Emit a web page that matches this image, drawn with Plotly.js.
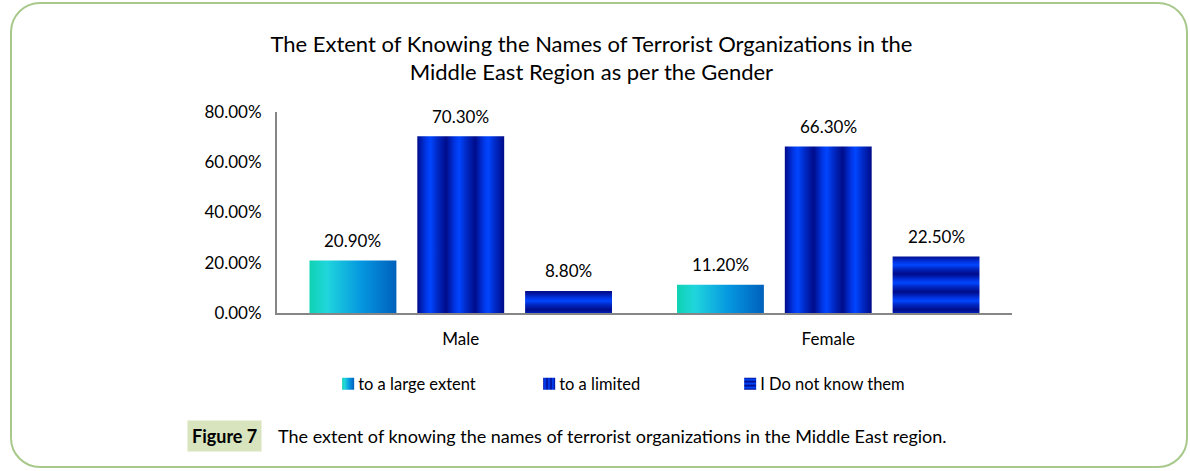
<!DOCTYPE html>
<html>
<head>
<meta charset="utf-8">
<script src="https://cdn.plot.ly/plotly-3.0.1.min.js"></script>
<style>
  body { margin: 0; background: #fff; }
  #frame { position: absolute; left: 10px; top: 2px; width: 1174px; height: 462px;
           border: 2px solid #a8c88c; border-radius: 30px; }
  #graph { position: absolute; left: 0; top: 0; width: 1190px; height: 471px; }
  #fills { position: absolute; width: 0; height: 0; }
</style>
</head>
<body>
<svg id="fills" aria-hidden="true">
  <defs>
    <linearGradient id="gLarge" x1="0" y1="0" x2="1" y2="0">
      <stop offset="0" stop-color="#0fd2b2"/>
      <stop offset="0.2" stop-color="#20d6dc"/>
      <stop offset="0.6" stop-color="#0596e0"/>
      <stop offset="1" stop-color="#0060bc"/>
    </linearGradient>
    <linearGradient id="gLimited" x1="0" y1="0" x2="0.333" y2="0" spreadMethod="repeat">
      <stop offset="0" stop-color="#000c8a"/>
      <stop offset="0.3" stop-color="#0036e6"/>
      <stop offset="0.45" stop-color="#0046ff"/>
      <stop offset="0.7" stop-color="#0028c4"/>
      <stop offset="1" stop-color="#000c8a"/>
    </linearGradient>
    <linearGradient id="gUnknown" gradientUnits="userSpaceOnUse" x1="0" y1="0" x2="0" y2="18" spreadMethod="repeat">
      <stop offset="0" stop-color="#000c8a"/>
      <stop offset="0.35" stop-color="#0036e6"/>
      <stop offset="0.5" stop-color="#0046ff"/>
      <stop offset="0.7" stop-color="#0028c4"/>
      <stop offset="1" stop-color="#000c8a"/>
    </linearGradient>
    <linearGradient id="gUnknownLeg" x1="0" y1="0" x2="0" y2="0.333" spreadMethod="repeat">
      <stop offset="0" stop-color="#000c8a"/>
      <stop offset="0.5" stop-color="#0046ff"/>
      <stop offset="1" stop-color="#000c8a"/>
    </linearGradient>
  </defs>
</svg>
<div id="frame"></div>
<div id="graph"></div>
<script>
var genders = ['Male', 'Female'];
var seriesNames = ['to a large extent', 'to a limited', 'I Do not know them'];
var largeExtent = [20.9, 11.2];
var limited = [70.3, 66.3];
var doNotKnow = [8.8, 22.5];
var yTicks = [0, 20, 40, 60, 80];
var yTickText = ['0.00%', '20.00%', '40.00%', '60.00%', '80.00%'];

var baseColors = ['#10b4d8', '#0030e0', '#0030e0'];
var barFills = ['url(#gLarge)', 'url(#gLimited)', 'url(#gUnknown)'];
var legendFills = ['url(#gLarge)', 'url(#gLimited)', 'url(#gUnknownLeg)'];

var labelFont = {family: 'Lato, sans-serif', size: 17, color: '#000'};
var slotPx = 108; // pixel width of one bar slot inside a group

function makeTrace(name, vals, i) {
    return {
        type: 'bar',
        x: genders,
        y: vals,
        name: name,
        hoverinfo: 'none',
        marker: {color: baseColors[i], line: {width: 0}}
    };
}

var allSeries = [largeExtent, limited, doNotKnow];
var graphData = allSeries.map(function (vals, i) {
    return makeTrace(seriesNames[i], vals, i);
});

// value labels above each bar, placed at the bar's data coordinates
var valueLabels = [];
allSeries.forEach(function (vals, i) {
    vals.forEach(function (v, j) {
        valueLabels.push({
            x: genders[j], y: v, xref: 'x', yref: 'y',
            text: v.toFixed(2) + '%',
            showarrow: false, xshift: (i - 1) * slotPx, yshift: 20,
            yanchor: 'middle', font: labelFont
        });
    });
});

var layout = {
    width: 1190,
    height: 471,
    margin: {l: 277, r: 178, t: 112, b: 158, pad: 0},
    paper_bgcolor: 'rgba(0,0,0,0)',
    plot_bgcolor: 'rgba(0,0,0,0)',
    font: labelFont,
    barmode: 'group',
    bargap: 0.12,
    bargroupgap: 0.194,
    showlegend: true,
    title: {
        text: 'The Extent of Knowing the Names of Terrorist Organizations in the<br>Middle East Region as per the Gender',
        font: {family: 'Lato, sans-serif', size: 22, color: '#000'},
        xref: 'container', x: 0.497, xanchor: 'center',
        yref: 'container', y: 0.89, yanchor: 'middle'
    },
    xaxis: {
        showline: true, linecolor: '#868686', linewidth: 2,
        ticks: '', showgrid: false, zeroline: false,
        tickfont: labelFont, ticklabelstandoff: 10
    },
    yaxis: {
        range: [0, 80], tickvals: yTicks, ticktext: yTickText,
        showline: true, linecolor: '#868686', linewidth: 2,
        ticks: '', showgrid: false, zeroline: false,
        tickfont: labelFont, ticklabelstandoff: 10
    },
    legend: {
        orientation: 'h',
        x: 0.056, xanchor: 'left',
        y: -0.353, yanchor: 'middle',
        entrywidth: 156, entrywidthmode: 'pixels',
        font: {family: 'Lato, sans-serif', size: 16.5, color: '#000'},
        bgcolor: 'rgba(0,0,0,0)'
    },
    annotations: valueLabels.concat([
        {
            text: '<b>Figure 7</b>', xref: 'paper', yref: 'paper',
            x: -0.0204, y: -0.612, xanchor: 'right', yanchor: 'middle',
            showarrow: false, bgcolor: '#d7e4bd', borderpad: 4,
            font: {family: 'Lato, sans-serif', size: 18, color: '#000'}
        },
        {
            text: 'The extent of knowing the names of terrorist organizations in the Middle East region.',
            xref: 'paper', yref: 'paper',
            x: -0.001, y: -0.612, xanchor: 'left', yanchor: 'middle',
            showarrow: false,
            font: {family: 'Lato, sans-serif', size: 18, color: '#000'}
        }
    ])
};

function applyFills() {
    var traces = document.querySelectorAll('#graph .barlayer .trace');
    traces.forEach(function (tr, i) {
        tr.querySelectorAll('.point path').forEach(function (p) {
            p.style.fill = barFills[i];
        });
    });
    var legs = document.querySelectorAll('#graph .legend .traces');
    legs.forEach(function (lg, i) {
        var pts = lg.querySelector('.legendpoints');
        if (pts) pts.setAttribute('transform', 'translate(10,0)');
        lg.querySelectorAll('.legendpoints path').forEach(function (p) {
            p.style.fill = legendFills[i];
        });
    });
}

var gd = document.getElementById('graph');
Plotly.newPlot(gd, graphData, layout, {displayModeBar: false, staticPlot: true}).then(function () {
    applyFills();
    gd.on('plotly_afterplot', applyFills);
});
</script>
</body>
</html>
